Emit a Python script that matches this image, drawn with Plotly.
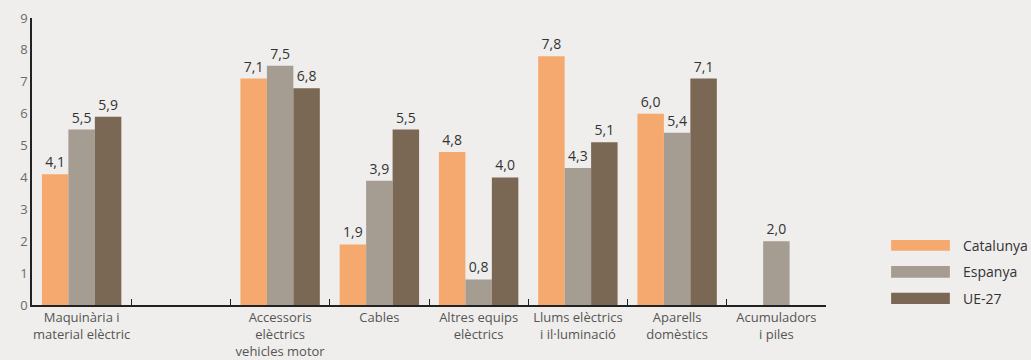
import plotly.graph_objects as go

# categories (the second slot is an empty gap in the original chart)
categories = ["Maquinària i<br>material elèctric", " ",
              "Accessoris<br>elèctrics<br>vehicles motor", "Cables",
              "Altres equips<br>elèctrics", "Llums elèctrics<br>i il·luminació",
              "Aparells<br>domèstics", "Acumuladors<br>i piles"]

catalunya = [4.1, None, 7.1, 1.9, 4.8, 7.8, 6.0, None]
espanya = [5.5, None, 7.5, 3.9, 0.8, 4.3, 5.4, 2.0]
ue27 = [5.9, None, 6.8, 5.5, 4.0, 5.1, 7.1, None]

series_names = ["Catalunya", "Espanya", "UE-27"]
colors = ["#F5A96E", "#A59C92", "#7A6855"]

bg = "#EFEEEC"
font = "Open Sans"

fig = go.Figure()
for name, vals, col in zip(series_names, [catalunya, espanya, ue27], colors):
    fig.add_trace(go.Bar(
        x=categories, y=vals, name=name,
        marker=dict(color=col, line=dict(width=0)),
        texttemplate="%{y:.1f}", textposition="outside", constraintext="none",
        textfont=dict(family=font, size=14, color="#333333"),
        cliponaxis=False, showlegend=False,
    ))

# custom legend: wide flat swatches + labels
sw_y = [(0.189, 0.2265), (0.0951, 0.1359), (0.0035, 0.0429)]
for name, col, (y0, y1) in zip(series_names, colors, sw_y):
    fig.add_shape(type="rect", xref="paper", yref="paper",
                  x0=1.082, x1=1.156, y0=y0, y1=y1,
                  fillcolor=col, line=dict(width=0))
    fig.add_annotation(xref="paper", yref="paper", x=1.170, y=(y0 + y1) / 2,
                       text=name, showarrow=False, xanchor="left", yanchor="middle",
                       font=dict(family=font, size=14, color="#333333"))

fig.update_layout(
    width=1031, height=360,
    margin=dict(l=32, r=205, t=18, b=55, autoexpand=False),
    paper_bgcolor=bg, plot_bgcolor=bg,
    barmode="group", bargap=0.2, bargroupgap=0,
    separators=",.",
    font=dict(family=font, size=13, color="#555555"),
)
fig.update_xaxes(
    showline=True, linecolor="#222222", linewidth=1.5,
    ticks="inside", tickson="boundaries", ticklen=6, tickcolor="#222222",
    tickfont=dict(family=font, size=13, color="#555555"), tickangle=0,
    showgrid=False, automargin=False,
)
fig.update_yaxes(
    range=[0, 9], dtick=1, showline=True, linecolor="#222222", linewidth=1.5,
    showgrid=False, zeroline=False, ticks="", automargin=False,
    tickfont=dict(family=font, size=13, color="#6a6a6a"),
)

fig.write_html("out.html", config={"displayModeBar": False},
               post_script="document.body.style.margin='0';"
               "document.body.style.background='%s';" % bg)
